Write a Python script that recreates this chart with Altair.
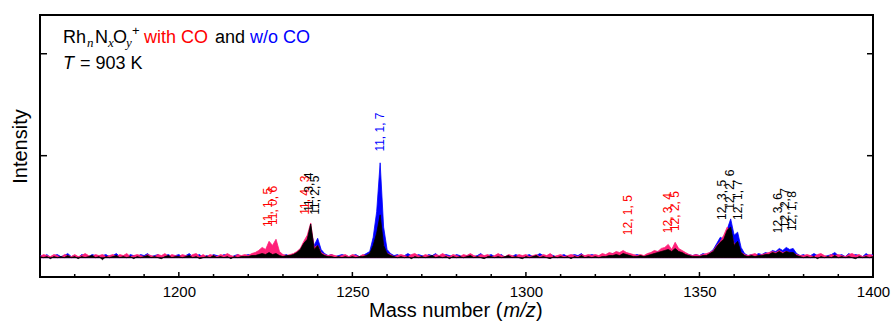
import altair as alt
import pandas as pd

# ---------------- data ----------------
masses = list(range(1160, 1401))

blue_wo_co = [
    0.02, 0.01, 0.03, 0.00, 0.02, 0.03, 0.01, 0.02, 0.04, 0.01,
    0.02, 0.00, 0.03, 0.02, 0.01, 0.03, 0.02, 0.00, 0.02, 0.03,
    0.01, 0.02, 0.04, 0.01, 0.02, 0.00, 0.03, 0.02, 0.01, 0.03,
    0.02, 0.04, 0.01, 0.02, 0.03, 0.00, 0.02, 0.03, 0.01, 0.02,
    0.03, 0.01, 0.02, 0.04, 0.01, 0.02, 0.03, 0.00, 0.02, 0.01,
    0.03, 0.02, 0.01, 0.03, 0.02, 0.00, 0.02, 0.03, 0.01, 0.02,
    0.03, 0.02, 0.04, 0.03, 0.05, 0.04, 0.06, 0.05, 0.04, 0.02,
    0.02, 0.03, 0.01, 0.03, 0.05, 0.08, 0.10, 0.14, 0.28, 0.12,
    0.19, 0.08, 0.04, 0.02, 0.03, 0.01, 0.02, 0.03, 0.02, 0.01,
    0.02, 0.03, 0.01, 0.02, 0.04, 0.06, 0.20, 0.45, 0.93, 0.30,
    0.08, 0.04, 0.02, 0.03, 0.01, 0.02, 0.04, 0.02, 0.01, 0.03,
    0.02, 0.01, 0.03, 0.02, 0.04, 0.01, 0.02, 0.03, 0.02, 0.01,
    0.03, 0.02, 0.00, 0.02, 0.03, 0.01, 0.02, 0.04, 0.01, 0.02,
    0.03, 0.01, 0.02, 0.03, 0.00, 0.02, 0.01, 0.03, 0.02, 0.01,
    0.02, 0.03, 0.01, 0.02, 0.04, 0.02, 0.01, 0.03, 0.02, 0.00,
    0.02, 0.03, 0.01, 0.02, 0.03, 0.02, 0.04, 0.01, 0.02, 0.03,
    0.02, 0.01, 0.03, 0.02, 0.03, 0.04, 0.03, 0.04, 0.05, 0.04,
    0.03, 0.02, 0.03, 0.02, 0.01, 0.03, 0.04, 0.05, 0.06, 0.05,
    0.07, 0.06, 0.08, 0.07, 0.06, 0.05, 0.04, 0.03, 0.02, 0.03,
    0.02, 0.04, 0.03, 0.05, 0.08, 0.14, 0.20, 0.18, 0.28, 0.38,
    0.22, 0.25, 0.10, 0.04, 0.02, 0.03, 0.02, 0.04, 0.03, 0.05,
    0.04, 0.07, 0.06, 0.09, 0.07, 0.10, 0.08, 0.09, 0.04, 0.02,
    0.03, 0.01, 0.02, 0.04, 0.02, 0.03, 0.01, 0.02, 0.03, 0.05,
    0.02, 0.03, 0.01, 0.04, 0.02, 0.03, 0.02, 0.01, 0.04, 0.02,
    0.03,
]

pink_with_co = [
    0.01, 0.03, 0.02, 0.01, 0.03, 0.02, 0.00, 0.03, 0.02, 0.01,
    0.03, 0.01, 0.02, 0.04, 0.02, 0.01, 0.03, 0.02, 0.03, 0.01,
    0.02, 0.03, 0.01, 0.03, 0.02, 0.04, 0.01, 0.02, 0.03, 0.02,
    0.01, 0.03, 0.02, 0.01, 0.03, 0.02, 0.04, 0.01, 0.03, 0.02,
    0.01, 0.03, 0.02, 0.01, 0.03, 0.04, 0.01, 0.03, 0.01, 0.03,
    0.02, 0.01, 0.03, 0.02, 0.04, 0.02, 0.01, 0.03, 0.02, 0.03,
    0.02, 0.04, 0.05, 0.07, 0.10, 0.08, 0.16, 0.12, 0.18, 0.06,
    0.03, 0.02, 0.03, 0.04, 0.06, 0.09, 0.16, 0.22, 0.34, 0.10,
    0.12, 0.05, 0.03, 0.02, 0.03, 0.02, 0.01, 0.02, 0.03, 0.01,
    0.03, 0.02, 0.01, 0.03, 0.02, 0.04, 0.08, 0.12, 0.30, 0.10,
    0.04, 0.03, 0.01, 0.02, 0.03, 0.02, 0.01, 0.03, 0.04, 0.02,
    0.01, 0.03, 0.02, 0.01, 0.03, 0.02, 0.04, 0.02, 0.01, 0.03,
    0.02, 0.01, 0.03, 0.02, 0.04, 0.02, 0.01, 0.03, 0.02, 0.03,
    0.01, 0.02, 0.04, 0.02, 0.01, 0.03, 0.02, 0.01, 0.03, 0.02,
    0.03, 0.01, 0.02, 0.03, 0.01, 0.03, 0.02, 0.04, 0.01, 0.02,
    0.03, 0.01, 0.02, 0.03, 0.02, 0.01, 0.03, 0.02, 0.03, 0.02,
    0.03, 0.02, 0.04, 0.03, 0.05, 0.04, 0.06, 0.05, 0.07, 0.05,
    0.04, 0.03, 0.02, 0.03, 0.02, 0.04, 0.05, 0.07, 0.06, 0.09,
    0.10, 0.13, 0.08, 0.15, 0.09, 0.07, 0.05, 0.03, 0.02, 0.03,
    0.02, 0.03, 0.04, 0.05, 0.07, 0.12, 0.16, 0.22, 0.30, 0.24,
    0.14, 0.10, 0.05, 0.03, 0.02, 0.03, 0.04, 0.02, 0.03, 0.04,
    0.05, 0.06, 0.05, 0.07, 0.05, 0.06, 0.05, 0.04, 0.03, 0.02,
    0.02, 0.03, 0.02, 0.01, 0.03, 0.04, 0.02, 0.01, 0.03, 0.02,
    0.03, 0.02, 0.01, 0.03, 0.04, 0.02, 0.03, 0.01, 0.02, 0.03,
    0.02,
]

black_common = [
    0.01, 0.00, 0.01, -0.01, 0.01, 0.00, 0.01, 0.00, 0.02, 0.00,
    0.01, -0.01, 0.01, 0.00, 0.01, 0.02, 0.00, 0.01, -0.02, 0.01,
    0.00, 0.01, 0.02, 0.00, 0.01, 0.00, 0.01, -0.01, 0.01, 0.00,
    0.01, 0.02, 0.00, 0.01, 0.00, -0.01, 0.01, 0.02, 0.00, 0.01,
    0.01, 0.00, 0.01, 0.02, 0.00, 0.01, -0.01, 0.00, 0.01, 0.00,
    0.02, 0.00, 0.01, 0.00, 0.01, -0.01, 0.01, 0.00, 0.01, 0.01,
    0.01, 0.02, 0.02, 0.03, 0.04, 0.03, 0.05, 0.03, 0.04, 0.02,
    0.01, 0.02, 0.02, 0.03, 0.05, 0.08, 0.14, 0.18, 0.33, 0.08,
    0.12, 0.04, 0.02, 0.01, 0.01, 0.00, 0.01, 0.00, 0.01, 0.00,
    0.01, 0.00, 0.01, 0.01, 0.02, 0.04, 0.12, 0.24, 0.42, 0.12,
    0.04, 0.02, 0.01, 0.00, 0.01, 0.00, 0.01, -0.01, 0.01, 0.00,
    0.01, 0.00, 0.01, 0.02, 0.00, 0.01, 0.00, 0.01, -0.01, 0.01,
    0.00, 0.01, 0.00, 0.01, 0.02, 0.00, 0.01, 0.00, -0.01, 0.01,
    0.01, 0.00, 0.01, 0.00, 0.01, 0.02, 0.00, 0.01, 0.00, -0.01,
    0.01, 0.00, 0.01, 0.02, 0.00, 0.01, 0.00, -0.01, 0.01, 0.00,
    0.01, 0.00, 0.01, -0.01, 0.01, 0.00, 0.02, 0.00, 0.01, 0.00,
    0.01, 0.00, 0.01, 0.01, 0.02, 0.02, 0.03, 0.02, 0.04, 0.03,
    0.02, 0.01, 0.01, 0.02, 0.01, 0.02, 0.03, 0.04, 0.05, 0.06,
    0.07, 0.08, 0.06, 0.09, 0.06, 0.05, 0.03, 0.02, 0.01, 0.01,
    0.01, 0.02, 0.02, 0.04, 0.06, 0.11, 0.15, 0.18, 0.27, 0.30,
    0.12, 0.16, 0.05, 0.02, 0.01, 0.02, 0.01, 0.02, 0.02, 0.03,
    0.03, 0.05, 0.04, 0.06, 0.04, 0.06, 0.05, 0.05, 0.02, 0.01,
    0.00, 0.01, 0.00, 0.01, -0.01, 0.01, 0.00, 0.01, 0.00, 0.02,
    0.00, 0.01, 0.00, 0.01, 0.00, -0.01, 0.01, 0.00, 0.01, 0.00,
    0.01,
]

x_major_ticks = [1200, 1250, 1300, 1350, 1400]
x_minor_ticks = [1170, 1180, 1190, 1210, 1220, 1230, 1240, 1260, 1270, 1280,
                 1290, 1310, 1320, 1330, 1340, 1360, 1370, 1380, 1390]
y_ticks = [1, 2]

peak_labels = ["11, 1, 5", "11, 0, 6", "11, 4, 3", "11, 3, 4", "11, 2, 5",
               "11, 1, 7", "12, 1, 5", "12, 3, 4", "12, 2, 5",
               "12, 3, 5", "12, 2, 6", "12, 1, 7",
               "12, 3, 6", "12, 2, 7", "12, 1, 8"]
peak_label_mass = [1225.8, 1227.0, 1236.3, 1237.5, 1239.2,
                   1258.0, 1329.4, 1340.9, 1342.9,
                   1356.5, 1358.8, 1361.0,
                   1372.6, 1374.6, 1376.6]
peak_label_y = [0.30, 0.32, 0.42, 0.45, 0.42,
                1.04, 0.22, 0.24, 0.26,
                0.37, 0.47, 0.37,
                0.24, 0.29, 0.26]
peak_label_color = ["#ff0000", "#ff0000", "#ff0000", "#000000", "#000000",
                    "#0000ff", "#ff0000", "#ff0000", "#ff0000",
                    "#000000", "#000000", "#000000",
                    "#000000", "#000000", "#000000"]

# ---------------- chart ----------------
W, H = 833, 262
FONT = "Liberation Sans"
SERIF = "Liberation Serif"

xs = alt.Scale(domain=[1160, 1400], nice=False, zero=False)
ys = alt.Scale(domain=[-0.19, 2.38], nice=False, zero=False)
x_axis = alt.Axis(values=x_major_ticks, ticks=False, domain=False, grid=False,
                  labelFontSize=15, labelFont=FONT, labelColor="black",
                  labelPadding=7, labelFlush=False, labelOverlap=False,
                  format="d", title=None)
y_axis = alt.Axis(labels=False, ticks=False, domain=False, grid=False,
                  title="Intensity", titleFontSize=20, titleFont=FONT,
                  titleFontWeight="normal", titleColor="black", titlePadding=10)


def area(vals, color):
    df = pd.DataFrame({"mass": masses, "val": vals})
    return alt.Chart(df).mark_area(
        color=color, opacity=1, stroke=color, strokeWidth=0.8, clip=True
    ).encode(
        x=alt.X("mass:Q", scale=xs, axis=x_axis),
        y=alt.Y("val:Q", scale=ys, axis=y_axis),
        y2=alt.datum(0),
    )


layers = [
    area(blue_wo_co, "#0000ff"),
    area(pink_with_co, "#ff2079"),
    area(black_common, "#000000"),
]

# inward ticks
layers.append(
    alt.Chart(pd.DataFrame({"t": x_major_ticks})).mark_rule(color="black", strokeWidth=1.5).encode(
        x=alt.X("t:Q", scale=xs, axis=x_axis), y=alt.value(H), y2=alt.value(H - 5))
)
layers.append(
    alt.Chart(pd.DataFrame({"t": x_minor_ticks})).mark_rule(color="black", strokeWidth=1.5).encode(
        x=alt.X("t:Q", scale=xs, axis=x_axis), y=alt.value(H), y2=alt.value(H - 3))
)
layers.append(
    alt.Chart(pd.DataFrame({"t": y_ticks})).mark_rule(color="black", strokeWidth=1.5).encode(
        y=alt.Y("t:Q", scale=ys, axis=y_axis), x=alt.value(0), x2=alt.value(7))
)
layers.append(
    alt.Chart(pd.DataFrame({"t": y_ticks})).mark_rule(color="black", strokeWidth=1.5).encode(
        y=alt.Y("t:Q", scale=ys, axis=y_axis), x=alt.value(W), x2=alt.value(W - 6))
)

# peak labels
lab_df = pd.DataFrame({"mass": peak_label_mass, "y": peak_label_y,
                       "text": peak_labels, "c": peak_label_color})
layers.append(
    alt.Chart(lab_df).mark_text(angle=270, align="left", baseline="middle",
                                fontSize=12, font=FONT).encode(
        x=alt.X("mass:Q", scale=xs, axis=x_axis),
        y=alt.Y("y:Q", scale=ys, axis=y_axis),
        text="text:N",
        color=alt.Color("c:N", scale=None),
    )
)

one = pd.DataFrame([{"k": 0}])


def seg(text, x, y, size=18, color="black", font=FONT, style="normal", align="left"):
    return alt.Chart(one).mark_text(
        text=text, fontSize=size, font=font, fontStyle=style, color=color,
        align=align, baseline="alphabetic"
    ).encode(x=alt.value(x), y=alt.value(y))


# legend text (pixel positions relative to the plot area)
layers += [
    seg("Rh", 23, 28),
    seg("n", 47, 32, size=13, font=SERIF, style="italic"),
    seg("N", 55, 28),
    seg("x", 68, 32, size=13, font=SERIF, style="italic"),
    seg("O", 73, 28),
    seg("y", 86, 32, size=13, font=SERIF, style="italic"),
    seg("+", 92, 20, size=13),
    seg("with CO", 104, 28, color="#ff0000"),
    seg("and", 175, 28),
    seg("w/o CO", 210, 28, color="#0000ff"),
    seg("T", 23, 54, style="italic"),
    seg("= 903 K", 40, 54),
    # x-axis title with italic m/z
    seg("Mass number (", 329, 302, size=20),
    seg("m/z", 463.5, 302, size=20, style="italic"),
    seg(")", 496, 302, size=20),
]

chart = alt.layer(*layers).properties(
    width=W, height=H,
    autosize=alt.AutoSizeParams(type="none"),
    padding={"left": 40, "top": 15, "right": 20, "bottom": 45},
    background="white",
).configure_view(stroke="black", strokeWidth=2)

chart.save("out.html", embed_options={"renderer": "svg", "actions": False})
